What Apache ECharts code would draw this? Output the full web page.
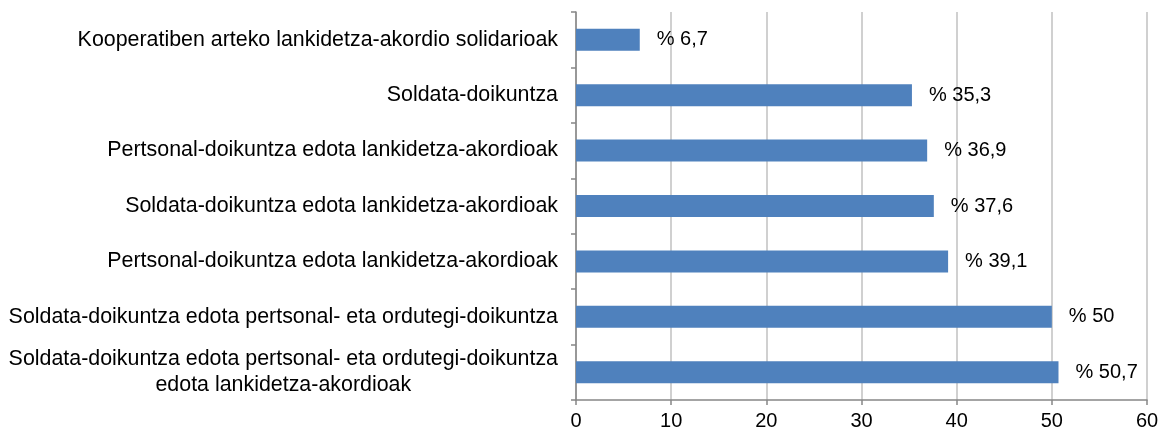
<!DOCTYPE html>
<html>
<head>
<meta charset="utf-8">
<script src="https://cdn.jsdelivr.net/npm/echarts@6/dist/echarts.min.js"></script>
<style>
html,body{margin:0;padding:0;background:#fff;}
#chart{width:1167px;height:436px;}
</style>
</head>
<body>
<div id="chart"></div>
<script>
const categories = [
  'Kooperatiben arteko lankidetza-akordio solidarioak',
  'Soldata-doikuntza',
  'Pertsonal-doikuntza edota lankidetza-akordioak',
  'Soldata-doikuntza edota lankidetza-akordioak',
  'Pertsonal-doikuntza edota lankidetza-akordioak',
  'Soldata-doikuntza edota pertsonal- eta ordutegi-doikuntza',
  'Soldata-doikuntza edota pertsonal- eta ordutegi-doikuntza\nedota lankidetza-akordioak'
];
const values = [6.7, 35.3, 36.9, 37.6, 39.1, 50, 50.7];
const xTicks = [0, 10, 20, 30, 40, 50, 60];

const chart = echarts.init(document.getElementById('chart'), null, {renderer: 'canvas'});
const font = 'Liberation Sans, Arial, sans-serif';
chart.setOption({
  animation: false,
  backgroundColor: '#ffffff',
  grid: {left: 576, right: 20, top: 12, bottom: 36, containLabel: false},
  xAxis: {
    type: 'value',
    min: xTicks[0],
    max: xTicks[xTicks.length - 1],
    interval: 10,
    axisLine: {show: true, lineStyle: {color: '#868686', width: 1.5}},
    axisTick: {show: true, length: 5, lineStyle: {color: '#868686', width: 1.5}},
    axisLabel: {color: '#000', fontSize: 20, fontFamily: font, margin: 11},
    splitLine: {show: true, lineStyle: {color: '#c0c0c0', width: 1.5}}
  },
  yAxis: {
    type: 'category',
    inverse: true,
    data: categories,
    axisLine: {show: true, lineStyle: {color: '#868686', width: 1.5}},
    axisTick: {show: true, length: 5, alignWithLabel: false, lineStyle: {color: '#868686', width: 1.5}},
    axisLabel: {
      color: '#000', fontSize: 21.4, fontFamily: font, margin: 18, interval: 0,
      formatter: function (v) { return v.split('\n').map(function (l) { return '{c|' + l + '}'; }).join('\n'); },
      rich: {c: {align: 'center', fontSize: 21.4, fontFamily: font, color: '#000', lineHeight: 26}}
    },
    splitLine: {show: false}
  },
  series: [{
    type: 'bar',
    data: values,
    barWidth: 22,
    itemStyle: {color: '#4F81BD'},
    label: {
      show: true,
      position: 'right',
      distance: 17,
      color: '#000',
      fontSize: 20,
      fontFamily: font,
      formatter: function (p) { return '% ' + String(p.value).replace('.', ','); }
    }
  }]
});
</script>
</body>
</html>
